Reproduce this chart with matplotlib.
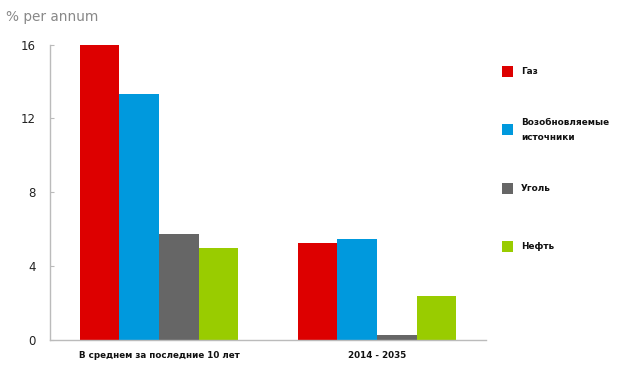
import numpy as np
import matplotlib
matplotlib.use('Agg')
import matplotlib.pyplot as plt
from matplotlib.patches import Rectangle

# data
periods = ['В среднем за последние 10 лет', '2014 - 2035']
series = ['Газ', 'Возобновляемые\nисточники', 'Уголь', 'Нефть']
gas = [16.0, 5.22]
renewables = [13.3, 5.46]
coal = [5.73, 0.23]
oil = [4.98, 2.35]
yticks = [0, 4, 8, 12, 16]

colors = ['#dd0000', '#0099dd', '#666666', '#99cc00']
values = [gas, renewables, coal, oil]

fig = plt.figure(figsize=(6.24, 3.71), dpi=100)
ax = fig.add_axes([0.0801, 0.0849, 0.6987, 0.7946])

x = np.arange(len(periods))
w = 0.182
for i, (vals, col) in enumerate(zip(values, colors)):
    ax.bar(x + (i - 1.5) * w, vals, width=w, color=col, linewidth=0)

ax.set_xlim(-0.5, 1.5)
ax.set_ylim(0, 16)
ax.set_yticks(yticks)
ax.set_xticks(x)
ax.set_xticklabels(periods, fontsize=6.3, fontweight='bold', color='#111111')
ax.tick_params(axis='x', length=0, pad=8.5)
ax.tick_params(axis='y', direction='in', length=3, color='#bbbbbb',
               labelsize=8.5, labelcolor='#222222', pad=10)
for s in ['top', 'right']:
    ax.spines[s].set_visible(False)
for s in ['left', 'bottom']:
    ax.spines[s].set_color('#bbbbbb')
    ax.spines[s].set_linewidth(1)

fig.text(6 / 624, 1 - 17 / 371, '% per annum', fontsize=9.8, color='#888888',
         ha='left', va='center')

# legend entries placed by hand, the spacing in the original is uneven
legend_y = [71.3, 129.7, 188.5, 246.3]
for name, col, yc in zip(series, colors, legend_y):
    fig.patches.append(Rectangle((502 / 624, 1 - (yc + 5.5) / 371), 11 / 624, 11 / 371,
                                 transform=fig.transFigure, color=col, linewidth=0))
    fig.text(521 / 624, 1 - yc / 371, name, fontsize=6.4, fontweight='bold',
             color='#111111', ha='left', va='center', linespacing=1.9)

fig.savefig('out.png', dpi=100, facecolor='white')
